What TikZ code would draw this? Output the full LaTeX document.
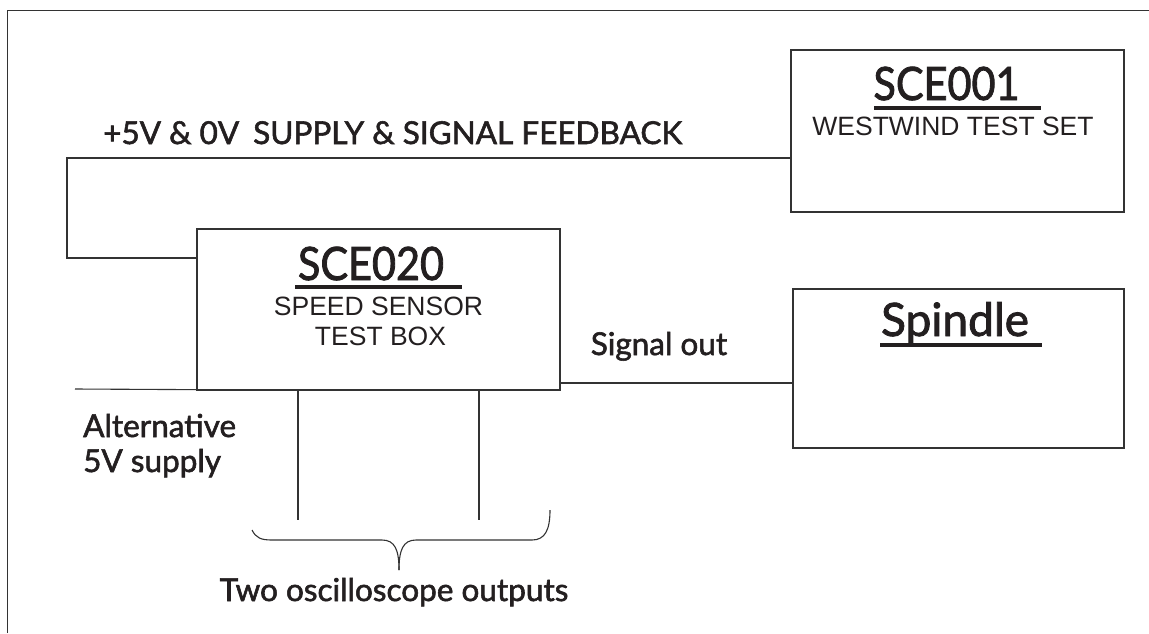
\documentclass[tikz,border=0pt]{standalone}
\usepackage{fontspec}
\setmainfont{Lato}
\newfontfamily\labf{Lato}[FakeBold=1.8]
\newfontfamily\titlef{Lato}[FakeStretch=0.9,FakeBold=1.8]
\newfontfamily\titlewf{Lato}[FakeBold=1.8]
\newfontfamily\arialf{Liberation Sans}
\definecolor{ink}{HTML}{231F20}
\definecolor{linec}{HTML}{333333}
\begin{document}
\begin{tikzpicture}[x=1pt,y=-1pt,
  boxnode/.style={draw=linec, line width=1.3pt, fill=none, inner sep=0pt},
  wire/.style={draw=linec, line width=1.1pt},
  lab/.style={font=\labf\fontsize{31.5}{37}\selectfont, text=ink, inner sep=0pt, anchor=base west},
  titletext/.style={font=\titlef\fontsize{46}{52}\selectfont, text=ink, inner sep=0pt, anchor=base},
  subtext/.style={font=\arialf\fontsize{26.5}{30}\selectfont, text=ink, inner sep=0pt, anchor=base},
  uline/.style={draw=ink, line width=4.5pt}]
\useasboundingbox (0,0) rectangle (1149,633);
% partial frame
\draw[linec, line width=1pt] (7.5,633) -- (7.5,10.5) -- (1149,10.5);
% boxes
\node[boxnode, minimum width=333pt, minimum height=162pt] (sce001) at (957.5,131) {};
\node[boxnode, minimum width=363pt, minimum height=161pt] (sce020) at (378.5,309.5) {};
\node[boxnode, minimum width=331pt, minimum height=159pt] (spindle) at (958.5,368.5) {};
% box texts
\node[titletext] (t001) at (946.5,100) {SCE001};
\draw[uline] (874,108) -- (1041,108);
\node[subtext] (s001) at (953,135) {WESTWIND TEST SET};
\node[titletext] (t020) at (371,280) {SCE020};
\draw[uline] (295,287) -- (462,287);
\node[subtext] (s020a) at (378.5,315) {SPEED SENSOR};
\node[subtext] (s020b) at (380.5,345) {TEST BOX};
\node[titletext, font=\titlewf\fontsize{46}{52}\selectfont] (tsp) at (955,336) {Spindle};
\draw[uline] (880,345) -- (1042,345);
% labels
\node[lab] (lfeed) at (103,144) {+5V \& 0V\hspace{14pt}SUPPLY \& SIGNAL FEEDBACK};
\node[lab, anchor=base] (lsig) at (659,355) {Signal out};
\node[lab] (lalt1) at (83,437) {Alternative};
\node[lab] (lalt2) at (83,472) {5V supply};
\node[lab, anchor=base] (losc) at (394,601) {Two oscilloscope outputs};
% connectors
\coordinate (fa) at (67,158);
\coordinate (fb) at (67,258);
\draw[wire] ([yshift=-27pt]sce001.west) -- (fa) -- (fb) -- ([yshift=51.5pt]sce020.west);
\draw[wire] ([yshift=-73.5pt]sce020.east) -- ([yshift=-14.5pt]spindle.west);
\coordinate (alt) at (75,389);
\draw[wire] (alt) -- ([yshift=1pt]sce020.south west);
\coordinate (o1) at (298,520);
\coordinate (o2) at (479,520);
\draw[wire] (sce020.south -| o1) -- (o1);
\draw[wire] (sce020.south -| o2) -- (o2);
% brace
\draw[linec, line width=1.1pt] (252,530) .. controls (256,538) and (261,540) .. (272,540) -- (382,540) .. controls (395,540) and (399,550) .. (399,570);
\draw[linec, line width=1.1pt] (550,510) .. controls (550,530) and (545,540) .. (532,540) -- (416,540) .. controls (403,540) and (399,550) .. (399,570);
\end{tikzpicture}
\end{document}
